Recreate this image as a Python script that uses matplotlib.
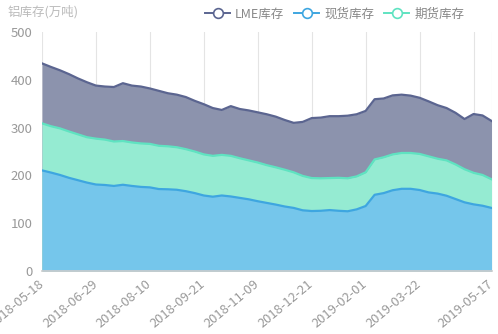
import numpy as np
import pandas as pd
import matplotlib
matplotlib.use("Agg")
import matplotlib.pyplot as plt
from matplotlib.lines import Line2D

plt.rcParams["font.family"] = ["Noto Sans CJK SC", "DejaVu Sans"]

# weekly dates, holiday weeks missing
dates = pd.date_range("2018-05-18", "2019-05-17", freq="7D")
dates = dates.drop([pd.Timestamp("2018-10-05"), pd.Timestamp("2019-02-08")])
date_labels = [d.strftime("%Y-%m-%d") for d in dates]

# inventory, 10k tonnes (stacked: spot at bottom, futures, then LME)
spot_stock = [210.6, 206, 201, 195, 190, 185, 181, 180, 178, 180.5,
              178, 176, 175, 171.5, 171, 170, 167, 163, 158, 155.5,
              158, 156, 153, 150, 146, 142.5, 139, 135, 132, 127,
              125.5, 126, 127.5, 126, 125, 129, 136, 159.5, 163, 169,
              172, 172, 169.5, 164.5, 162, 157.5, 150.6, 143.7, 139.5, 136.6,
              132]
futures_stock = [98.4, 97, 97.5, 97, 96, 95, 96, 95, 93, 91.5,
                 91, 91, 91, 90.5, 90, 89, 88, 87, 86, 85.5,
                 85, 85, 83, 81.5, 81, 79, 78, 77, 74.5, 72,
                 69, 68, 67, 69, 69, 69, 70.5, 74, 75, 75,
                 75, 75, 75.5, 75.5, 73, 74, 72.4, 69.3, 66, 64.4,
                 60]
lme_stock = [125.5, 124, 121.5, 120, 117, 115, 111, 111, 114, 121,
             119, 119, 116, 115, 111, 110, 109, 106, 105, 100,
             94, 104, 103, 104.5, 105, 106.5, 106, 104, 103.5, 113,
             125.5, 127, 129.5, 129, 131, 130, 128.5, 126, 123, 123.5,
             122, 120, 117.5, 115, 112, 109.5, 108, 105, 123, 124.5,
             122]

x = np.arange(len(date_labels))
lvl_spot = np.array(spot_stock)
lvl_fut = lvl_spot + np.array(futures_stock)
lvl_lme = lvl_fut + np.array(lme_stock)

series = [
    ("LME库存", lvl_lme, "#8c93ad", "#5b6590"),
    ("期货库存", lvl_fut, "#95ebd2", "#5fe3c1"),
    ("现货库存", lvl_spot, "#75c6eb", "#3ea6e0"),
]

fig = plt.figure(figsize=(4.98, 3.34), dpi=100)
ax = fig.add_axes([0.0843, 0.1886, 0.9027, 0.7154])

for name, lvl, fill_c, line_c in series:
    ax.fill_between(x, 0, lvl, color=fill_c, lw=0, zorder=2)
    ax.plot(x, lvl, color=line_c, lw=1.6, zorder=3)

ax.set_xlim(0, len(x) - 1)
ax.set_ylim(0, 500)
ax.set_yticks(range(0, 501, 100))

grid_pos = list(range(0, 49, 6)) + [50]
ax.set_xticks(grid_pos)
tick_text = [date_labels[i] if i != 48 else "" for i in grid_pos]
ax.set_xticklabels(tick_text, rotation=40, ha="right", va="center",
                   rotation_mode="anchor", fontsize=9.3, color="#999999")
ax.tick_params(axis="x", length=0, pad=8)
ax.tick_params(axis="y", length=0, pad=7, labelsize=9.5, labelcolor="#999999")
ax.grid(axis="x", color="#e4e4e4", lw=0.8, zorder=1)
ax.set_axisbelow(True)

for side in ["top", "left", "right"]:
    ax.spines[side].set_visible(False)
ax.spines["bottom"].set_color("#cccccc")
ax.spines["bottom"].set_linewidth(1.2)
ax.spines["bottom"].set_zorder(4)

fig.text(0.016, 0.964, "铝库存(万吨)", fontsize=9, color="#bbbbbb",
         ha="left", va="center")

legend_items = [
    ("LME库存", "#5b6590"),
    ("现货库存", "#3ea6e0"),
    ("期货库存", "#5fe3c1"),
]
handles = [Line2D([], [], color=c, lw=1.4, marker="o", markersize=7,
                  markerfacecolor="white", markeredgewidth=1.2)
           for _, c in legend_items]
leg = fig.legend(handles, [n for n, _ in legend_items], loc="center right",
                 bbox_to_anchor=(0.945, 0.958), ncol=3, frameon=False,
                 fontsize=9, handlelength=2.0, handletextpad=0.4,
                 columnspacing=0.8, borderpad=0)
for t in leg.get_texts():
    t.set_color("#888888")

fig.savefig("out.png", dpi=100)
